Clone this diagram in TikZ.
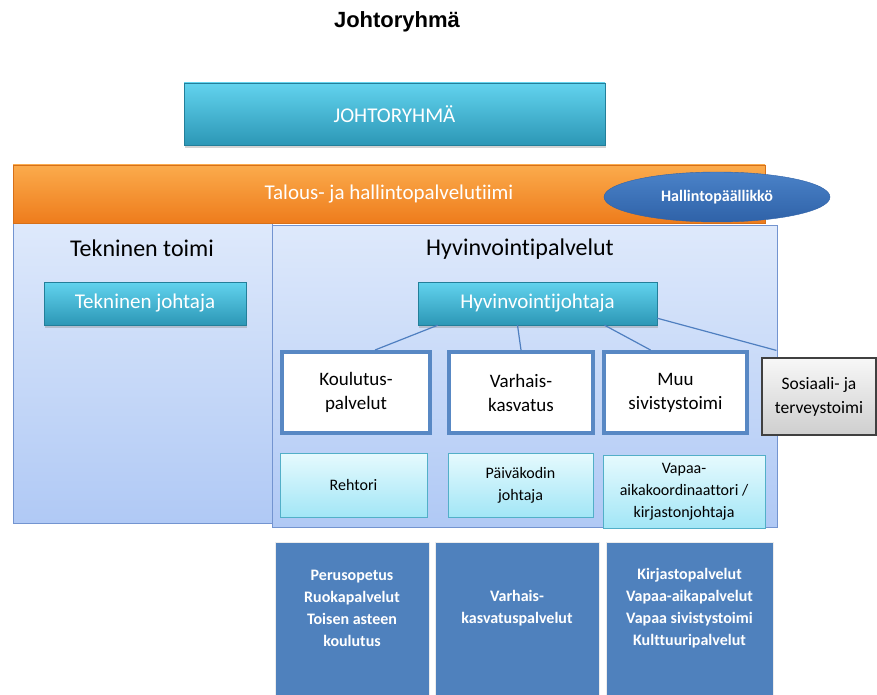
\documentclass[tikz,border=0pt]{standalone}
\usepackage{fontspec}
\setmainfont{Carlito}[Ligatures={NoCommon}]
\newfontfamily\arialfont{Liberation Sans}
\usetikzlibrary{shapes.geometric,shadows}

\definecolor{tealtop}{HTML}{62D3EE}
\definecolor{tealbot}{HTML}{2C97B6}
\definecolor{tealedge}{HTML}{237F9A}
\definecolor{orangetop}{HTML}{FBAB4C}
\definecolor{orangebot}{HTML}{EE7C1C}
\definecolor{paneltop}{HTML}{DEE9FB}
\definecolor{panelbot}{HTML}{B0C9F5}
\definecolor{paneledge}{HTML}{7394D0}
\definecolor{boxblue}{HTML}{5888C4}
\definecolor{darkblue}{HTML}{4F81BD}
\definecolor{ovaltop}{HTML}{4A82C8}
\definecolor{ovalbot}{HTML}{2F62A8}
\definecolor{cyantop}{HTML}{E6FAFE}
\definecolor{cyanbot}{HTML}{A2E6F6}
\definecolor{cyanedge}{HTML}{52AFC8}
\definecolor{linkblue}{HTML}{4F7FC0}

\begin{document}
\begin{tikzpicture}[x=1pt, y=-1pt, inner sep=0pt,
    headbox/.style = {draw=tealedge, top color=tealtop, bottom color=tealbot, text=white,
        font=\fontsize{21}{25}\selectfont,
        drop shadow={opacity=0.35, shadow xshift=1pt, shadow yshift=-3pt}},
    panel/.style = {draw=paneledge, top color=paneltop, bottom color=panelbot},
    paneltitle/.style = {font=\fontsize{24}{28}\selectfont},
    unit/.style = {draw=boxblue, line width=4pt, fill=white, align=center,
        minimum height=81pt, font=\fontsize{19}{24}\selectfont},
    lead/.style = {draw=cyanedge, top color=cyantop, bottom color=cyanbot, align=center,
        font=\fontsize{16}{22}\selectfont},
    service/.style = {fill=darkblue, draw=white!85!gray, minimum height=153pt},
    servtext/.style = {text=white, align=center, font=\bfseries\fontsize{16}{22}\selectfont},
    link/.style = {draw=linkblue, line width=1.2pt}]
    \useasboundingbox (0,0) rectangle (877,695);

    % otsikko
    \node[font=\arialfont\bfseries\fontsize{22}{26}\selectfont] (title) at (397,22) {Johtoryhmä};
    \node[headbox, minimum width=421pt, minimum height=62pt] (jr) at (394.5,114) {JOHTORYHMÄ};

    % paneelit
    \node[panel, minimum width=259pt, minimum height=300pt] (tek) at (142.5,373) {};
    \node[panel, minimum width=505pt, minimum height=302pt] (hyv) at (524.5,376) {};
    \node[paneltitle] (tekt) at (142,248) {Tekninen toimi};
    \node[paneltitle] (hyvt) at (520,249) {Hyvinvointipalvelut};

    \node[draw=orangebot!90!black, top color=orangetop, bottom color=orangebot, text=white,
        font=\fontsize{21}{25}\selectfont, minimum width=752pt, minimum height=58pt]
        (tal) at (389,194) {Talous- ja hallintopalvelutiimi};
    \node[ellipse, draw=ovalbot, top color=ovaltop, bottom color=ovalbot, text=white,
        font=\bfseries\fontsize{16}{20}\selectfont, minimum width=226pt, minimum height=50pt]
        (hp) at (717,197) {Hallintopäällikkö};

    \node[headbox, minimum width=202pt, minimum height=43pt] (tj) at (145,303.5) {Tekninen johtaja};
    \node[headbox, minimum width=239pt, minimum height=43pt] (hj) at (537.5,303.5) {Hyvinvointijohtaja};

    % yksiköt
    \node[unit, minimum width=148pt] (kou) at (356,392.5) {Koulutus-\\palvelut};
    \node[unit, minimum width=144pt] (var) at (521,392.5) {Varhais-\\kasvatus};
    \node[unit, minimum width=143pt] (muu) at (675.5,392.5) {Muu\\sivistystoimi};
    \node[draw=black!75, line width=1.2pt, top color=gray!6, bottom color=gray!38, align=center,
        font=\fontsize{17.5}{24}\selectfont, minimum width=114pt, minimum height=77pt]
        (sos) at (819,396.5) {Sosiaali- ja\\terveystoimi};

    \draw[link] ([xshift=20pt]hj.south west) -- ([xshift=19pt]kou.north);
    \draw[link] ([xshift=-20pt]hj.south) -- (var.north);
    \draw[link] ([xshift=67pt]hj.south) -- ([xshift=-25pt]muu.north);
    \draw[link] ([yshift=7pt]hj.south east) -- ([xshift=15pt,yshift=7pt]sos.north west);

    % johtajat
    \node[lead, minimum width=147pt, minimum height=64pt] (reh) at (353.5,485) {Rehtori};
    \node[lead, minimum width=145pt, minimum height=64pt] (pvk) at (520.5,485) {Päiväkodin\\johtaja};
    \node[lead, minimum width=162pt, minimum height=73pt] (vap) at (684,491.5) {Vapaa-\\aikakoordinaattori /\\kirjastonjohtaja};

    % palvelut
    \node[service, minimum width=154pt] (pal1) at (352,618.5) {};
    \node[service, minimum width=164pt] (pal2) at (517,618.5) {};
    \node[service, minimum width=167pt] (pal3) at (689.5,618.5) {};
    \node[servtext] (pal1t) at ([yshift=10pt]pal1) {Perusopetus\\Ruokapalvelut\\Toisen asteen\\koulutus};
    \node[servtext] (pal2t) at ([yshift=10pt]pal2) {Varhais-\\kasvatuspalvelut};
    \node[servtext] (pal3t) at ([yshift=10pt]pal3) {Kirjastopalvelut\\Vapaa-aikapalvelut\\Vapaa sivistystoimi\\Kulttuuripalvelut};
\end{tikzpicture}
\end{document}
